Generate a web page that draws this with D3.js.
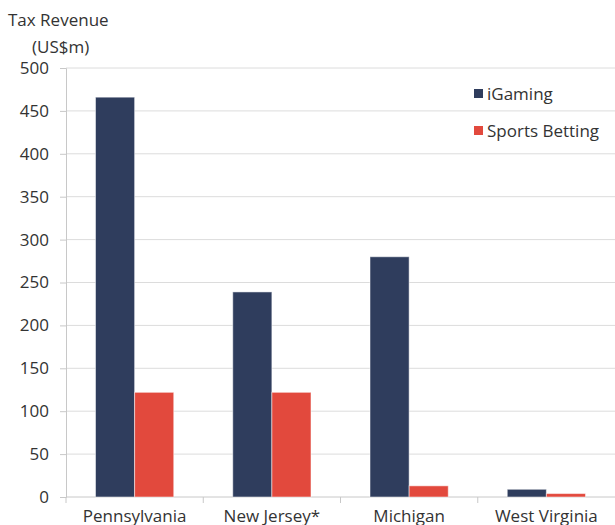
<!DOCTYPE html>
<html>
<head>
<meta charset="utf-8">
<script src="https://cdn.jsdelivr.net/npm/d3@7"></script>
<style>
  body { margin: 0; background: #fff; }
  text { font-family: "Open Sans", Lato, sans-serif; fill: #333; }
</style>
</head>
<body>
<div id="chart"></div>
<script>
// data
var states = ['Pennsylvania', 'New Jersey*', 'Michigan', 'West Virginia'];
var seriesNames = ['iGaming', 'Sports Betting'];
var iGaming = [466, 239, 280, 9];
var sportsBetting = [122, 122, 13, 4];
var yTicks = [0, 50, 100, 150, 200, 250, 300, 350, 400, 450, 500];
var colors = ['#2f3d5d', '#e2493d'];

var width = 615, height = 525;
var margin = { top: 68, right: 0, bottom: 28, left: 66 };
var fontSize = '17px';

var svg = d3.select('#chart').append('svg')
  .attr('width', width)
  .attr('height', height);

var x = d3.scaleBand()
  .domain(states)
  .range([margin.left, width - margin.right])
  .paddingInner(0.43)
  .paddingOuter(0.215);

var xSub = d3.scaleBand()
  .domain(seriesNames)
  .range([0, x.bandwidth()]);

var y = d3.scaleLinear()
  .domain([0, 500])
  .range([height - margin.bottom, margin.top]);

// gridlines
svg.append('g')
  .selectAll('line')
  .data(yTicks.slice(1))
  .enter().append('line')
  .attr('x1', margin.left)
  .attr('x2', width)
  .attr('y1', function(d) { return y(d); })
  .attr('y2', function(d) { return y(d); })
  .attr('stroke', '#dcdcdc')
  .attr('stroke-width', 1);

// y axis
var yAxis = svg.append('g')
  .attr('transform', 'translate(' + margin.left + ',0)')
  .call(d3.axisLeft(y).tickValues(yTicks).tickSize(6).tickPadding(11));
yAxis.select('.domain').attr('stroke', '#c8c8c8');
yAxis.selectAll('.tick line').attr('stroke', '#c8c8c8');
yAxis.selectAll('.tick text')
  .style('font-size', fontSize)
  .style('font-family', '"Open Sans", sans-serif')
  .attr('fill', '#333');

// x axis, ticks at band boundaries
var xAxis = svg.append('g')
  .attr('transform', 'translate(0,' + y(0) + ')');
xAxis.append('line')
  .attr('x1', margin.left).attr('x2', width)
  .attr('stroke', '#c8c8c8');
var step = x.step();
xAxis.selectAll('.sep')
  .data(states)
  .enter().append('line')
  .attr('class', 'sep')
  .attr('x1', function(d) { return x(d) - x.paddingOuter() * step; })
  .attr('x2', function(d) { return x(d) - x.paddingOuter() * step; })
  .attr('y1', 0).attr('y2', 6)
  .attr('stroke', '#c8c8c8');
xAxis.selectAll('.lbl')
  .data(states)
  .enter().append('text')
  .attr('class', 'lbl')
  .attr('x', function(d) { return x(d) + x.bandwidth() / 2; })
  .attr('y', 25)
  .attr('text-anchor', 'middle')
  .style('font-size', fontSize)
  .text(function(d) { return d; });

// bars
var values = [iGaming, sportsBetting];
seriesNames.forEach(function(name, si) {
  svg.append('g')
    .selectAll('rect')
    .data(states)
    .enter().append('rect')
    .attr('x', function(d) { return x(d) + xSub(name); })
    .attr('width', xSub.bandwidth())
    .attr('y', function(d, i) { return y(values[si][i]); })
    .attr('height', function(d, i) { return y(0) - y(values[si][i]); })
    .attr('fill', colors[si])
    .attr('stroke', '#ffffff')
    .attr('stroke-opacity', 0.5)
    .attr('stroke-width', 1);
});

// legend
var legend = svg.append('g');
seriesNames.forEach(function(name, i) {
  var ly = 94 + i * 37;
  legend.append('rect')
    .attr('x', 474).attr('y', ly - 5)
    .attr('width', 9).attr('height', 9)
    .attr('fill', colors[i]);
  legend.append('text')
    .attr('x', 487).attr('y', ly + 6)
    .style('font-size', fontSize)
    .text(name);
});

// axis title
svg.append('text')
  .attr('x', 8).attr('y', 26)
  .style('font-size', fontSize)
  .text('Tax Revenue');
svg.append('text')
  .attr('x', 32).attr('y', 53)
  .style('font-size', fontSize)
  .text('(US$m)');
</script>
</body>
</html>
